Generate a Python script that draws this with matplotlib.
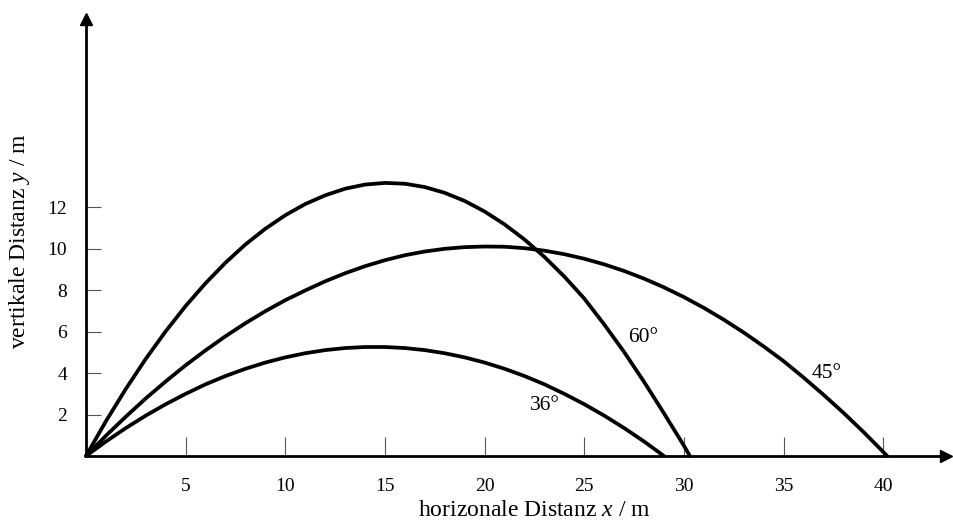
import matplotlib
matplotlib.use("Agg")
import matplotlib.pyplot as plt

plt.rcParams["font.family"] = ["Liberation Serif", "DejaVu Serif"]
plt.rcParams["mathtext.fontset"] = "custom"
plt.rcParams["mathtext.rm"] = "Liberation Serif"
plt.rcParams["mathtext.it"] = "Liberation Serif:italic"

# Trajectories (horizontal distance in m, height in m)
x60 = [0, 1, 2, 3, 4, 5, 6, 7, 8, 9, 10, 11, 12, 13, 14, 15, 16, 17, 18,
       19, 20, 21, 22, 23, 24, 25, 26, 27, 28, 29, 30, 30.3]
y60 = [0, 1.68, 3.24, 4.69, 6.02, 7.24, 8.34, 9.33, 10.21, 10.97, 11.62,
       12.16, 12.58, 12.9, 13.1, 13.18, 13.14, 12.98, 12.7, 12.31, 11.8,
       11.18, 10.45, 9.61, 8.66, 7.6, 6.35, 5.02, 3.58, 2.06, 0.5, 0]

x45 = [0, 1, 2, 3, 4, 5, 6, 7, 8, 9, 10, 11, 12, 13, 14, 15, 16, 17, 18,
       19, 20, 21, 22, 23, 24, 25, 26, 27, 28, 29, 30, 31, 32, 33, 34, 35,
       36, 37, 38, 39, 40, 40.2]
y45 = [0, 0.98, 1.9, 2.78, 3.6, 4.38, 5.1, 5.78, 6.41, 6.99, 7.52, 7.99,
       8.43, 8.82, 9.16, 9.45, 9.69, 9.87, 10.0, 10.08, 10.11, 10.1, 10.03,
       9.91, 9.74, 9.52, 9.25, 8.93, 8.56, 8.14, 7.67, 7.15, 6.58, 5.96,
       5.29, 4.58, 3.79, 2.96, 2.09, 1.17, 0.2, 0]

x36 = [0, 1, 2, 3, 4, 5, 6, 7, 8, 9, 10, 11, 12, 13, 14, 15, 16, 17, 18,
       19, 20, 21, 22, 23, 24, 25, 26, 27, 28, 29]
y36 = [0, 0.7, 1.35, 1.95, 2.5, 3.0, 3.46, 3.86, 4.21, 4.51, 4.76, 4.96,
       5.11, 5.21, 5.26, 5.26, 5.21, 5.11, 4.96, 4.76, 4.51, 4.21, 3.86,
       3.46, 3.0, 2.5, 1.95, 1.35, 0.7, 0]

x_ticks = [5, 10, 15, 20, 25, 30, 35, 40]
y_ticks = [2, 4, 6, 8, 10, 12]

fig = plt.figure(figsize=(9.54, 5.24), dpi=100)
ax = fig.add_axes([86 / 954, 68 / 524, 860 / 954, 437 / 524])
ax.set_xlim(0, 860 / 19.93)
ax.set_ylim(0, 437 / 20.72)

for side in ("top", "right"):
    ax.spines[side].set_visible(False)
for side in ("left", "bottom"):
    ax.spines[side].set_linewidth(2.0)
    ax.spines[side].set_capstyle("butt")

# arrow heads at the ends of both axes
ax.plot(1, 0, ">k", ms=9, transform=ax.transAxes, clip_on=False)
ax.plot(0, 1, "^k", ms=9, transform=ax.transAxes, clip_on=False)

ax.set_xticks(x_ticks)
ax.set_xticklabels([str(v) for v in x_ticks])
ax.set_yticks(y_ticks)
ax.set_yticklabels([str(v) for v in y_ticks])
ax.tick_params(axis="x", direction="in", length=13.7, width=0.8,
               color="#555555", pad=16, labelsize=14)
ax.tick_params(axis="y", direction="in", length=10.8, width=0.8,
               color="#555555", pad=13.5, labelsize=14)

for xs, ys in ((x60, y60), (x45, y45), (x36, y36)):
    ax.plot(xs, ys, color="black", lw=2.7, solid_joinstyle="round",
            solid_capstyle="round", clip_on=False, zorder=3)

ax.text(27.95, 5.74, "60°", fontsize=15.5, ha="center", va="center")
ax.text(37.18, 3.96, "45°", fontsize=15.5, ha="center", va="center")
ax.text(23.03, 2.43, "36°", fontsize=15.5, ha="center", va="center")

fig.text(534 / 954, 1 - 510 / 524, r"horizonale Distanz $x$ / m",
         fontsize=17, ha="center", va="center")
fig.text(20 / 954, 1 - 241 / 524, r"vertikale Distanz $y$ / m",
         fontsize=17, ha="center", va="center", rotation=90)

fig.savefig("out.png", dpi=100)
